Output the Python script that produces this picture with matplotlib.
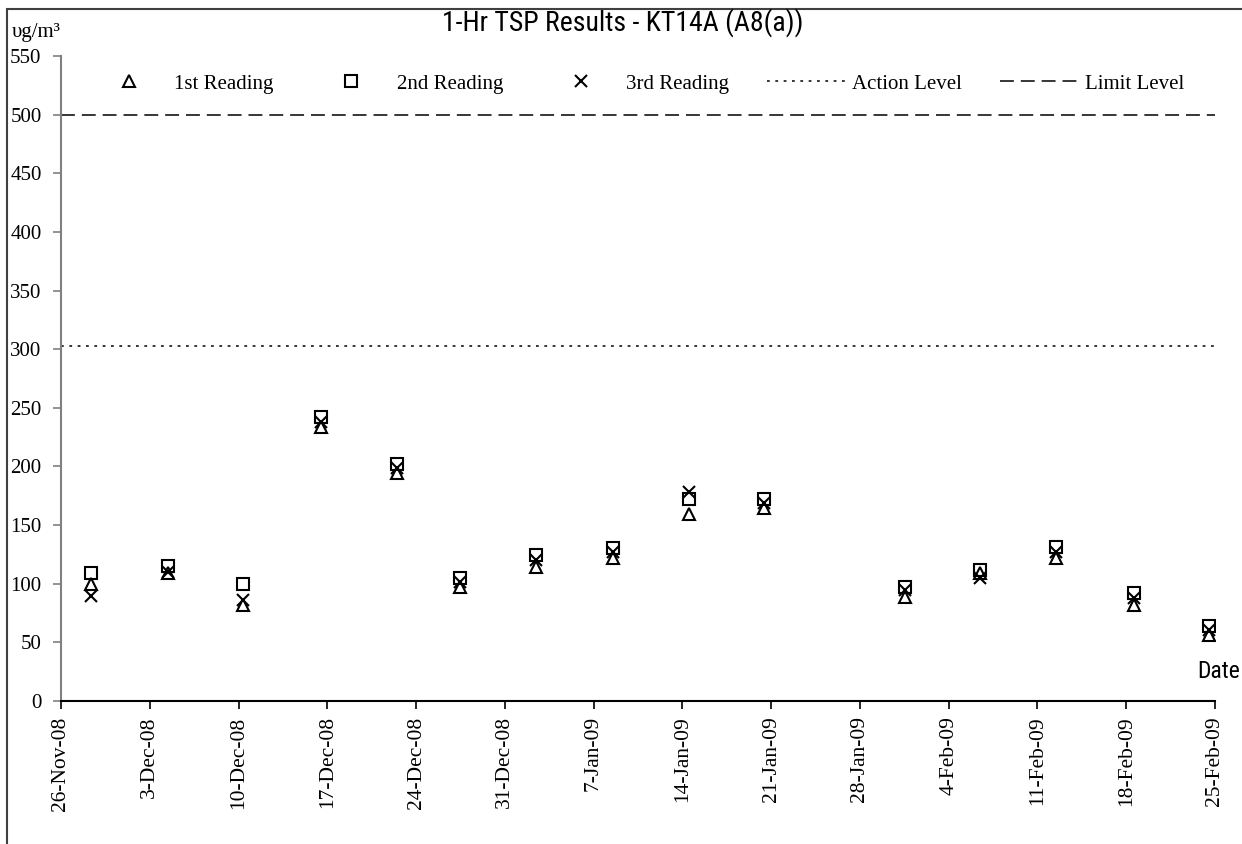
import matplotlib
matplotlib.use("Agg")
import matplotlib.pyplot as plt
from matplotlib import font_manager as fm
from matplotlib.patches import Rectangle
from datetime import datetime, timedelta

# ---------------- data ----------------
dates = ["2008-11-28 09:00", "2008-12-04 11:00", "2008-12-10 09:00", "2008-12-16 13:00",
         "2008-12-22 12:00", "2008-12-27 12:00", "2009-01-02 11:00", "2009-01-08 13:00",
         "2009-01-14 12:00", "2009-01-20 10:00", "2009-01-31 13:00", "2009-02-06 12:00",
         "2009-02-12 12:00", "2009-02-18 14:00", "2009-02-24 12:00"]
reading1 = [99.5, 108.9, 81.8, 233.8, 194.6, 97.4, 114.5, 121.7, 159.2, 164.3, 88.9, 109.4, 121.7, 81.8, 56.3]
reading2 = [109.4, 115.1, 99.5, 241.9, 202.0, 104.6, 124.5, 130.2, 172.0, 172.0, 96.9, 111.7, 131.5, 91.8, 63.9]
reading3 = [89.5, 110.2, 86.1, 238.1, 198.4, 101.2, 120.2, 127.3, 178.4, 168.5, 94.6, 104.6, 127.3, 87.6, 60.5]
action_level = 303
limit_level = 500
x_start = "2008-11-26"
x_end = "2009-02-25"
y_ticks = list(range(0, 551, 50))
title = "1-Hr TSP Results - KT14A (A8(a))"
labels = ["1st Reading", "2nd Reading", "3rd Reading", "Action Level", "Limit Level"]

# ---------------- fonts ----------------
plt.rcParams['lines.scale_dashes'] = False
serif = ['Liberation Serif', 'DejaVu Serif']
_fonts = fm.fontManager.ttflist
_names = {f.name for f in _fonts}
narrow_kw = {}
if 'Liberation Sans Narrow' in _names:
    narrow_kw = dict(family=['Liberation Sans Narrow', 'DejaVu Sans'])
elif 'Roboto Condensed' in _names:
    narrow_kw = dict(family=['Roboto Condensed', 'DejaVu Sans'])
else:
    cond = [f.name for f in _fonts if str(f.stretch) in ('condensed', 'semi-condensed')
            and 'Sans' in f.name]
    if cond:
        narrow_kw = dict(family=[cond[0], 'DejaVu Sans'], fontstretch='condensed')
    else:
        narrow_kw = dict(family=['Liberation Sans', 'DejaVu Sans'])

# ---------------- figure ----------------
W, H = 1242, 844
fig = plt.figure(figsize=(W / 100, H / 100), dpi=100)
ax = fig.add_axes([61 / W, (H - 701) / H, (1215 - 61) / W, (701 - 56) / H])

xd = [datetime.strptime(d, "%Y-%m-%d %H:%M") for d in dates]
x0 = datetime.strptime(x_start, "%Y-%m-%d")
x1 = datetime.strptime(x_end, "%Y-%m-%d")

mk = dict(linestyle='none', color='black', mfc='none', markersize=8, mew=1.5)
h1, = ax.plot(xd, reading1, marker='^', **mk)
h2, = ax.plot(xd, reading2, marker='s', **mk)
h3, = ax.plot(xd, reading3, marker='x', **mk)
h4, = ax.plot([x0, x1], [action_level, action_level], color='black', lw=1.1,
              dashes=(2, 4))
h5, = ax.plot([x0, x1], [limit_level, limit_level], color='black', lw=1.1,
              dashes=(10, 5))

ax.set_xlim(x0, x1)
ax.set_ylim(0, 550)
ax.set_yticks(y_ticks)
ticks = []
t = x0
while t <= x1:
    ticks.append(t)
    t += timedelta(days=7)
ax.set_xticks(ticks)
ax.set_xticklabels([f"{d.day}-{d.strftime('%b')}-{d.strftime('%y')}" for d in ticks],
                   rotation=90, family=serif, fontsize=15.5)
for lab in ax.get_yticklabels():
    lab.set_family(serif)
    lab.set_fontsize(15)

for s in ['top', 'right']:
    ax.spines[s].set_visible(False)
ax.spines['left'].set_color('#808080')
ax.spines['left'].set_linewidth(1.5)
ax.spines['bottom'].set_color('black')
ax.spines['bottom'].set_linewidth(1.5)
ax.tick_params(axis='y', direction='out', length=6, width=1.2, color='#808080', pad=8)
ax.tick_params(axis='x', direction='out', length=6, width=1.2, color='black', pad=5)

leg = ax.legend([h1, h2, h3, h4, h5], labels, loc='center', ncol=5,
                bbox_to_anchor=(0.499, 0.957), frameon=False, numpoints=1,
                handlelength=3.75, handletextpad=0.3, columnspacing=1.85,
                prop={'family': serif, 'size': 15})

fig.text(623 / W, 1 - 23 / H, title, ha='center', va='center',
         fontsize=20, **narrow_kw)
fig.text(12 / W, 1 - 33 / H, "υg/m³", ha='left', va='center', fontsize=15, family=serif)
fig.text(1240 / W, 1 - 671 / H, "Date", ha='right', va='center', fontsize=17,
         **narrow_kw)

fig.patches.append(Rectangle((7 / W, -0.01), 1.0, 1 - 9 / H + 0.01,
                             transform=fig.transFigure, fill=False,
                             edgecolor='#404040', linewidth=1.5))

fig.savefig("out.png", dpi=100)
